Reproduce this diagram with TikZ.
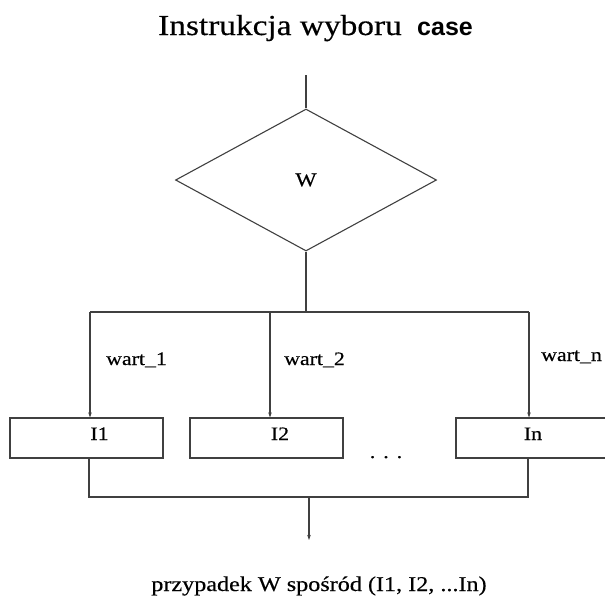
\documentclass[tikz,border=0pt]{standalone}
\usepackage{fontspec}
\setmainfont[FakeStretch=1.15,FakeBold=0.4]{Liberation Serif}
\newfontfamily\casefont{Liberation Sans}
\usetikzlibrary{shapes.geometric,arrows.meta}

\tikzset{
  flow/.style={line width=1.1pt, draw=black!75},
  arr/.style={flow, -{Stealth[length=5pt,width=3.5pt]}},
  decision/.style={diamond, flow, minimum width=261pt, minimum height=142pt,
    inner sep=0pt, font=\fontsize{19.5}{22}\selectfont},
  stepbox/.style={rectangle, flow, minimum height=40pt, inner sep=0pt},
  boxtext/.style={font=\fontsize{19}{22}\selectfont, inner sep=0pt, anchor=base},
  lbl/.style={font=\fontsize{19}{22}\selectfont, inner sep=0pt, anchor=base west},
}

\begin{document}
\begin{tikzpicture}[x=1pt,y=-1pt]
  \useasboundingbox (0,0) rectangle (605,603);

  % heading
  \node[inner sep=0pt, anchor=base west, font=\fontsize{29}{33}\selectfont]
    (title) at (158,35) {Instrukcja wyboru};
  \node[inner sep=0pt, anchor=base west, font=\casefont\bfseries\fontsize{25}{29}\selectfont]
    (kw) at (417,35) {case};

  % selector
  \coordinate (entry) at (306,75);
  \node[decision] (W) at (306,180) {W};
  \draw[flow] (entry) -- (W.north);

  % branching bus
  \coordinate (j) at (306,312);
  \coordinate (b1) at (90,312);
  \coordinate (b2) at (270,312);
  \coordinate (bn) at (529,312);
  \draw[flow] (W.south) -- (j);
  \draw[flow] (b1) -- (bn);

  % instruction boxes
  \node[stepbox, minimum width=153pt] (I1) at (86.5,438) {};
  \node[stepbox, minimum width=153pt] (I2) at (266.5,438) {};
  \node[stepbox, minimum width=150pt] (In) at (531,438) {};
  \node[boxtext] (t1) at (99.5,440) {I1};
  \node[boxtext] (t2) at (280,440) {I2};
  \node[boxtext] (tn) at (533,440) {In};
  \node[boxtext] (dots) at (386,458) {.\hspace{8pt}.\hspace{8pt}.};

  % branch arrows with their values
  \draw[arr] (b1) -- (b1 |- I1.north);
  \draw[arr] (b2) -- (b2 |- I2.north);
  \draw[arr] (bn) -- (bn |- In.north);
  \node[lbl] (v1) at (106,365) {wart\_1};
  \node[lbl] (v2) at (284,365) {wart\_2};
  \node[lbl] (vn) at (541,361) {wart\_n};

  % merging bus
  \coordinate (m1) at (89,497);
  \coordinate (mn) at (528,497);
  \coordinate (mj) at (309,497);
  \coordinate (exit) at (309,540);
  \draw[flow] (m1 |- I1.south) -- (m1) -- (mn) -- (mn |- In.south);
  \draw[arr] (mj) -- (exit);

  % caption
  \node[inner sep=0pt, anchor=base, font=\fontsize{21}{24}\selectfont]
    (cap) at (319,591) {przypadek W spośród (I1, I2, ...In)};
\end{tikzpicture}
\end{document}
